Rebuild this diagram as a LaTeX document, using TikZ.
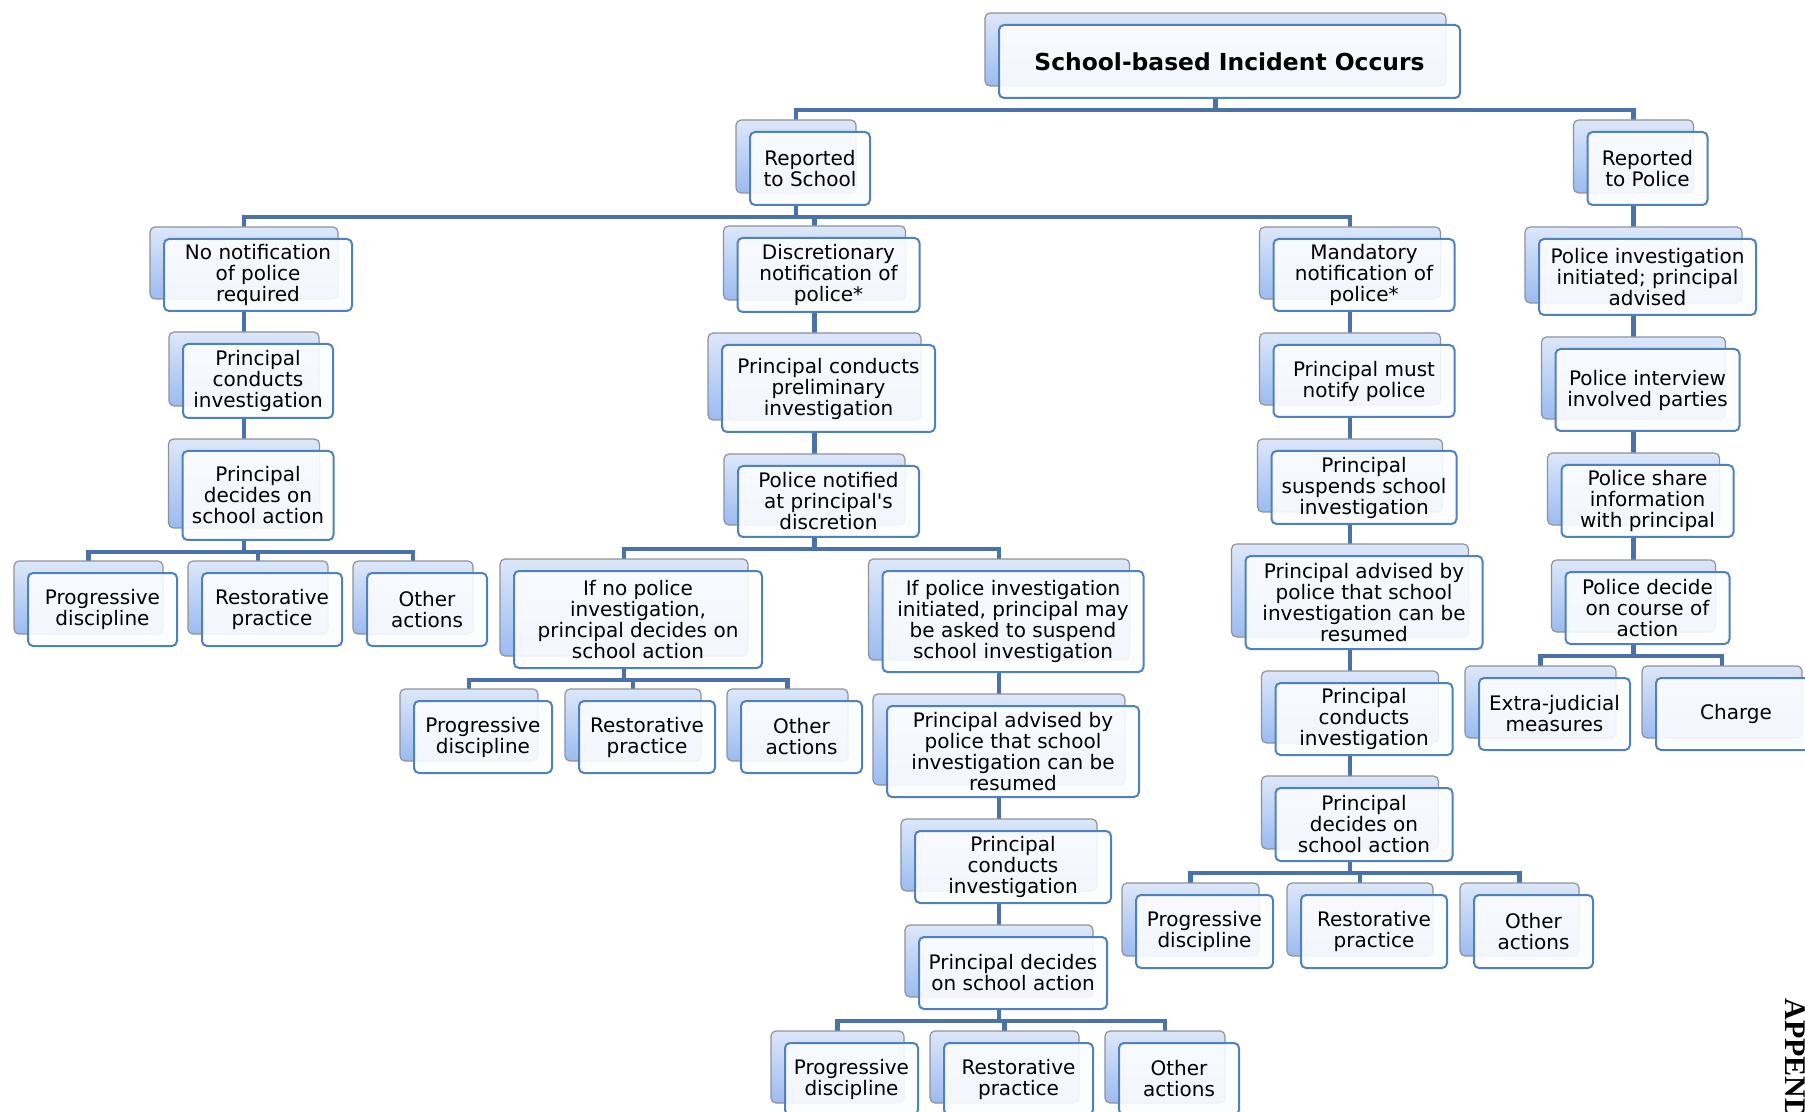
\documentclass[tikz,border=0pt]{standalone}
\usepackage{fontspec}
\setmainfont{DejaVu Sans}
\newfontfamily\apxfont{Liberation Serif}
\usetikzlibrary{shadows, backgrounds}

\definecolor{boxline}{HTML}{4F81BD}
\definecolor{boxfill}{HTML}{FCFDFF}
\definecolor{backline}{HTML}{8E929A}
\definecolor{backtop}{HTML}{DDE7F9}
\definecolor{backbot}{HTML}{9CBBF0}
\definecolor{linkblue}{HTML}{4A72A8}

\begin{document}
\begin{tikzpicture}[x=0.5pt, y=-0.5pt,
  card/.style={draw=boxline, line width=1pt, rounded corners=2.5pt,
    fill=boxfill, fill opacity=0.9, text opacity=1, align=center,
    inner sep=0pt, font=\fontsize{10}{10.5}\selectfont,
    copy shadow={shadow xshift=-7pt, shadow yshift=6pt, draw=backline,
      line width=0.6pt, fill opacity=1, top color=backtop, bottom color=backbot}},
  link/.style={draw=linkblue, line width=2.2pt},
  elbow/.style={to path={-- ++(0,11) -| (\tikztotarget)}}]
\useasboundingbox (0,0) rectangle (1805,1112);
\clip (0,0) rectangle (1805,1112);

% Root and the two ways of reporting
\node[card, minimum width=230.5pt, minimum height=36.5pt,
  font=\bfseries\fontsize{11.7}{14}\selectfont] (top) at (1229.5,61.5) {School-based Incident Occurs};
\node[card, minimum width=60pt, minimum height=36.5pt] (rs) at (810,168.5) {Reported\\to School};
\node[card, minimum width=60pt, minimum height=36.5pt] (rp) at (1647.5,168.5) {Reported\\to Police};

% Second level
\node[card, minimum width=94pt, minimum height=36pt] (nonot) at (258,275) {No notification\\of police\\required};
\node[card, minimum width=91pt, minimum height=37pt] (disc) at (828.5,275) {Discretionary\\notification of\\police*};
\node[card, minimum width=90.5pt, minimum height=36pt] (mand) at (1364,275) {Mandatory\\notification of\\police*};
\node[card, minimum width=108.5pt, minimum height=38pt] (pinv) at (1647.5,277) {Police investigation\\initiated; principal\\advised};

% No notification branch
\node[card, minimum width=75pt, minimum height=37pt] (pc1) at (258,381) {Principal\\conducts\\investigation};
\node[card, minimum width=75.5pt, minimum height=44.5pt] (pd1) at (258,495.5) {Principal\\decides on\\school action};
\node[card, minimum width=74.5pt, minimum height=36.5pt] (pg1) at (102.5,609.5) {Progressive\\discipline};
\node[card, minimum width=70pt, minimum height=36.5pt] (rs1) at (272,609.5) {Restorative\\practice};
\node[card, minimum width=60pt, minimum height=36.5pt] (ot1) at (427,609.5) {Other\\actions};

% Discretionary branch
\node[card, minimum width=106.5pt, minimum height=43.5pt] (pcp) at (828.5,388.5) {Principal conducts\\preliminary\\investigation};
\node[card, minimum width=90.5pt, minimum height=35.5pt] (pn) at (828.5,501.5) {Police notified\\at principal\textquotesingle s\\discretion};
\node[card, minimum width=124pt, minimum height=48.5pt] (ifno) at (638,619.5) {If no police\\investigation,\\principal decides on\\school action};
\node[card, minimum width=130.5pt, minimum height=50.5pt] (ifpol) at (1013,621.5) {If police investigation\\initiated, principal may\\be asked to suspend\\school investigation};
\node[card, minimum width=69pt, minimum height=36pt] (pg2) at (483,737) {Progressive\\discipline};
\node[card, minimum width=68pt, minimum height=36pt] (rs2) at (647,737) {Restorative\\practice};
\node[card, minimum width=60.5pt, minimum height=36pt] (ot2) at (801.5,737) {Other\\actions};
\node[card, minimum width=126pt, minimum height=45.5pt] (padv2) at (1013,751.5) {Principal advised by\\police that school\\investigation can be\\resumed};
\node[card, minimum width=98pt, minimum height=36pt] (pc2) at (1013,867) {Principal\\conducts\\investigation};
\node[card, minimum width=94pt, minimum height=36pt] (pd2) at (1013,973) {Principal decides\\on school action};
\node[card, minimum width=66.5pt, minimum height=36pt] (pg3) at (851.5,1079) {Progressive\\discipline};
\node[card, minimum width=74.5pt, minimum height=36pt] (rs3) at (1018.5,1079) {Restorative\\practice};
\node[card, minimum width=60pt, minimum height=36pt] (ot3) at (1179,1079) {Other\\actions};

% Mandatory branch
\node[card, minimum width=90.5pt, minimum height=36pt] (pm) at (1364,381) {Principal must\\notify police};
\node[card, minimum width=92.5pt, minimum height=36.5pt] (psus) at (1364,487.5) {Principal\\suspends school\\investigation};
\node[card, minimum width=118.5pt, minimum height=46.5pt] (padv3) at (1364,602.5) {Principal advised by\\police that school\\investigation can be\\resumed};
\node[card, minimum width=88.5pt, minimum height=36pt] (pc3) at (1364,719) {Principal\\conducts\\investigation};
\node[card, minimum width=88.5pt, minimum height=36.5pt] (pd3) at (1364,824.5) {Principal\\decides on\\school action};
\node[card, minimum width=68.5pt, minimum height=36.5pt] (pg4) at (1204.5,931.5) {Progressive\\discipline};
\node[card, minimum width=73pt, minimum height=36.5pt] (rs4) at (1374,931.5) {Restorative\\practice};
\node[card, minimum width=59.5pt, minimum height=36.5pt] (ot4) at (1533.5,931.5) {Other\\actions};

% Police branch
\node[card, minimum width=92pt, minimum height=41pt] (pint) at (1647.5,390) {Police interview\\involved parties};
\node[card, minimum width=86pt, minimum height=36pt] (pshare) at (1647.5,501) {Police share\\information\\with principal};
\node[card, minimum width=82pt, minimum height=36pt] (pdec) at (1647.5,608) {Police decide\\on course of\\action};
\node[card, minimum width=75.5pt, minimum height=36pt] (ejm) at (1554.5,714) {Extra-judicial\\measures};
\node[card, minimum width=80pt, minimum height=36pt] (chg) at (1736,714) {Charge};

% Page heading, cut by the edge
\node[rotate=-90, anchor=base west, inner sep=0pt,
  font=\apxfont\bfseries\fontsize{15}{18}\selectfont] (apx) at (1785,998) {APPENDIX};

% Connectors behind the boxes
\begin{scope}[on background layer]
\fill[white] (0,0) rectangle (1805,1112);
\foreach \a/\b in {top/rs, top/rp, rs/nonot, rs/disc, rs/mand,
    pd1/pg1, pd1/rs1, pd1/ot1, pn/ifno, pn/ifpol, ifno/pg2, ifno/rs2, ifno/ot2,
    pd2/pg3, pd2/rs3, pd2/ot3, pd3/pg4, pd3/rs4, pd3/ot4, pdec/ejm, pdec/chg}
  \draw[link] ([xshift=-7pt]\a.south) to[elbow] ([xshift=-7pt]\b.north);
\foreach \a/\b in {rp/pinv, nonot/pc1, pc1/pd1, disc/pcp, pcp/pn,
    ifpol/padv2, padv2/pc2, pc2/pd2, mand/pm, pm/psus, psus/padv3, padv3/pc3,
    pc3/pd3, pinv/pint, pint/pshare, pshare/pdec}
  \draw[link] ([xshift=-7pt]\a.south) -- ([xshift=-7pt]\b.north);
\end{scope}
\end{tikzpicture}
\end{document}
